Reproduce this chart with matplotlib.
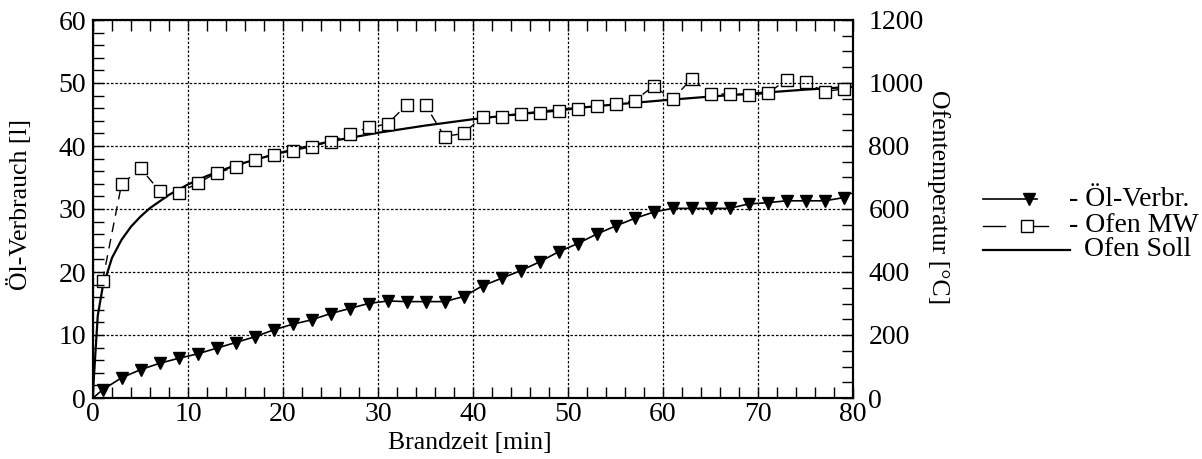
import matplotlib
matplotlib.use("Agg")
import matplotlib.pyplot as plt
from matplotlib.lines import Line2D
from matplotlib.ticker import MultipleLocator

plt.rcParams['font.family'] = ['Liberation Serif', 'DejaVu Serif']

# ---- data ----
oel_t = [0, 1, 3, 5, 7, 9, 11, 13, 15, 17, 19, 21, 23, 25, 27, 29, 31, 33, 35, 37, 39,
         41, 43, 45, 47, 49, 51, 53, 55, 57, 59, 61, 63, 65, 67, 69, 71, 73, 75, 77, 79]
oel_l = [0, 1.3, 3.2, 4.5, 5.5, 6.3, 7.0, 7.9, 8.8, 9.7, 10.8, 11.7, 12.4, 13.4, 14.2, 15.0,
         15.4, 15.3, 15.3, 15.3, 16.1, 17.8, 19.0, 20.2, 21.6, 23.2, 24.5, 26.0, 27.3, 28.5,
         29.5, 30.1, 30.1, 30.1, 30.1, 30.8, 31.0, 31.3, 31.3, 31.3, 31.8]

mw_t = [1, 3, 5, 7, 9, 11, 13, 15, 17, 19, 21, 23, 25, 27, 29, 31, 33, 35, 37, 39,
        41, 43, 45, 47, 49, 51, 53, 55, 57, 59, 61, 63, 65, 67, 69, 71, 73, 75, 77, 79]
mw_c = [371, 678, 729, 658, 652, 681, 715, 732, 756, 773, 785, 798, 814, 837, 859, 870,
        930, 930, 830, 840, 893, 893, 900, 906, 911, 919, 927, 933, 944, 990, 948, 1013,
        965, 965, 962, 967, 1010, 1002, 973, 981]

soll_t = [0, 0.5, 1, 2, 3, 4, 5, 6, 8, 10, 12, 15, 20, 25, 30, 35, 40, 45, 50, 55, 60,
          65, 70, 75, 80]
soll_c = [20, 261, 349, 445, 502, 544, 576, 603, 645, 678, 705, 739, 781, 815, 842, 865,
          885, 902, 918, 932, 945, 957, 968, 979, 988]

x_ticks = [0, 10, 20, 30, 40, 50, 60, 70, 80]
y1_ticks = [0, 10, 20, 30, 40, 50, 60]
y2_ticks = [0, 200, 400, 600, 800, 1000, 1200]

legend_labels = ["- Öl-Verbr.", "- Ofen MW", "Ofen Soll"]

# ---- figure ----
W, H = 1202, 459
fig = plt.figure(figsize=(W / 100, H / 100), dpi=100)
ax1 = fig.add_axes([93 / W, 1 - 398 / H, 760 / W, 378 / H])
ax2 = ax1.twinx()

FS = 20
LFS = 18.5
ax1.set_xlim(0, 80)
ax1.set_ylim(0, 60)
ax2.set_ylim(0, 1200)
ax1.set_xticks(x_ticks)
ax1.set_yticks(y1_ticks)
ax2.set_yticks(y2_ticks)
ax1.xaxis.set_minor_locator(MultipleLocator(2))
ax1.yaxis.set_minor_locator(MultipleLocator(2))
ax2.yaxis.set_minor_locator(MultipleLocator(50))

ax1.tick_params(axis='both', which='both', direction='in', top=True, right=False,
                labelsize=FS, width=1)
ax1.tick_params(axis='both', which='major', length=8)
ax1.tick_params(axis='both', which='minor', length=8)
ax1.tick_params(axis='y', pad=5)
ax1.tick_params(axis='x', pad=3)
ax2.tick_params(axis='y', which='both', direction='in', labelsize=FS, width=1, length=8, pad=11)

for sp in ax1.spines.values():
    sp.set_linewidth(1.5)
for sp in ax2.spines.values():
    sp.set_linewidth(1.5)

ax1.grid(True, which='major', color='black', linestyle=(0, (2, 1.5)), linewidth=0.9)

ax1.set_xlabel("Brandzeit [min]", fontsize=LFS)
ax1.set_ylabel("Öl-Verbrauch [l]", fontsize=LFS)
ax2.set_ylabel("Ofentemperatur [°C]", fontsize=LFS, rotation=-90)
ax1.xaxis.set_label_coords((470 - 93) / 760, (398 - 443) / 378)
ax1.xaxis.label.set_va('center')
ax1.yaxis.set_label_coords((20 - 93) / 760, (398 - 205) / 378)
ax1.yaxis.label.set_va('center')
ax2.yaxis.set_label_coords((938 - 93) / 760, (398 - 197) / 378)
ax2.yaxis.label.set_va('center')

# series
ax2.plot(soll_t, soll_c, color='black', linewidth=1.6, zorder=3)
ax2.plot(mw_t, mw_c, color='black', linewidth=1.0, linestyle=(0, (7, 5)),
         marker='s', markersize=9, markerfacecolor='white', markeredgecolor='black',
         markeredgewidth=1.0, zorder=4)
ax1.plot(oel_t, oel_l, color='black', linewidth=1.2, marker='v', markersize=9,
         markevery=list(range(1, len(oel_t))), markerfacecolor='black',
         markeredgecolor='black', zorder=4)

ax1.set_zorder(ax2.get_zorder() + 1)
ax1.patch.set_visible(False)

# ---- manual legend (figure pixel coords) ----
def fx(px):
    return px / W

def fy(py):
    return 1 - py / H

tf = fig.transFigure
rows = [199, 226, 250]
fig.add_artist(Line2D([fx(983), fx(1037)], [fy(rows[0])] * 2, color='black', lw=1.2, transform=tf))
fig.add_artist(Line2D([fx(1029)], [fy(rows[0])], marker='v', markersize=9, color='black',
                      linestyle='none', transform=tf))
fig.add_artist(Line2D([fx(983), fx(1005)], [fy(rows[1])] * 2, color='black', lw=1.0, transform=tf))
fig.add_artist(Line2D([fx(1027), fx(1048)], [fy(rows[1])] * 2, color='black', lw=1.0, transform=tf))
fig.add_artist(Line2D([fx(1027)], [fy(rows[1])], marker='s', markersize=8, markerfacecolor='white',
                      markeredgecolor='black', markeredgewidth=1.0, linestyle='none', transform=tf))
fig.add_artist(Line2D([fx(983), fx(1070)], [fy(rows[2])] * 2, color='black', lw=1.6, transform=tf))
fig.text(fx(1069), fy(rows[0]), legend_labels[0], fontsize=FS, va='center', ha='left')
fig.text(fx(1069), fy(rows[1]), legend_labels[1], fontsize=FS, va='center', ha='left')
fig.text(fx(1084), fy(rows[2]), legend_labels[2], fontsize=FS, va='center', ha='left')

fig.savefig("out.png", dpi=100)
